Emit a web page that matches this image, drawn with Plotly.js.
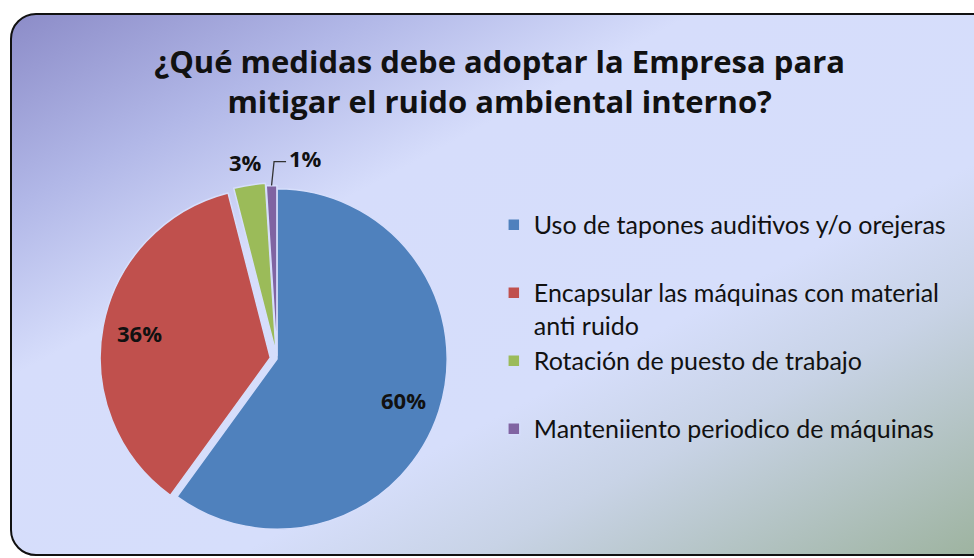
<!DOCTYPE html>
<html>
<head>
<meta charset="utf-8">
<script src="https://cdn.plot.ly/plotly-3.0.1.min.js"></script>
<style>
  html, body { margin: 0; padding: 0; background: #ffffff; width: 974px; height: 558px; overflow: hidden; }
  #bg {
    position: absolute; left: 10px; top: 13px; width: 990px; height: 543px;
    border: 2px solid #111; border-radius: 26px; box-sizing: border-box;
    background: linear-gradient(152deg, #8c8cc8 0%, #b1b7e7 18%, #d6ddfb 34%, #d6defb 62%, #c8d3e6 74%, #9cb29d 100%);
  }
  #chart { position: absolute; left: 0; top: 0; width: 974px; height: 558px; }
</style>
</head>
<body>
<div id="bg"></div>
<div id="chart"></div>
<script>
const titleText = "¿Qué medidas debe adoptar la Empresa para<br>mitigar el ruido ambiental interno?";
const categories = [
  "Uso de tapones auditivos y/o orejeras",
  "Encapsular las máquinas con material<br>anti ruido",
  "Rotación de puesto de trabajo",
  "Manteniiento periodico de máquinas"
];
const values = [60, 36, 3, 1];
const colors = ["#4f81bd", "#c0504d", "#9bbb59", "#8064a2"];
const pulls = [0, 0.04, 0.035, 0.02];
const outsideSlices = [false, false, true, true];

// legend labels: a blank line after single-line entries gives the wider row spacing
const legendLabels = categories.map((c, i) => (c.indexOf("<br>") < 0 && i < categories.length - 1) ? c + "<br> " : c);

const W = 974, H = 558;
const dom = { x: [0.1027, 0.4661], y: [0.0394, 0.6738] };
const total = values.reduce((a, b) => a + b, 0);
const maxPull = Math.max(...pulls);
const R = Math.min((dom.x[1] - dom.x[0]) * W, (dom.y[1] - dom.y[0]) * H) / 2 / (1 + maxPull);
const cxPx = (dom.x[0] + dom.x[1]) / 2 * W, cyPx = (1 - (dom.y[0] + dom.y[1]) / 2) * H;
const toPaperX = px => px / W, toPaperY = py => 1 - py / H;

const labelFont = { family: "Open Sans", size: 22, color: "#111111", weight: "bold" };

// percentage labels placed along each slice bisector (Excel-style)
const annotations = [];
const shapes = [];
let cum = 0;
values.forEach((v, i) => {
  const mid = (cum + v / 2) / total * 2 * Math.PI;
  cum += v;
  const txt = Math.round(v / total * 100) + "%";
  const sx = Math.sin(mid), sy = -Math.cos(mid);
  if (!outsideSlices[i]) {
    const rf = 0.78 + pulls[i];
    annotations.push({ xref: "paper", yref: "paper",
      x: toPaperX(cxPx + rf * R * sx), y: toPaperY(cyPx + rf * R * sy),
      text: txt, showarrow: false, font: labelFont, xanchor: "center", yanchor: "middle" });
  } else if (i === values.length - 2) {
    const rf = 1.17;
    annotations.push({ xref: "paper", yref: "paper",
      x: toPaperX(cxPx + rf * R * sx), y: toPaperY(cyPx + rf * R * sy),
      text: txt, showarrow: false, font: labelFont, xanchor: "center", yanchor: "middle" });
  } else {
    // leader line with an elbow, label to its right
    const r0 = (1 + pulls[i]) * R;
    const p0 = [cxPx + r0 * sx, cyPx + r0 * sy];
    const p1 = [p0[0] + 2.5, cyPx - 1.16 * R];
    const p2 = [p1[0] + 12, p1[1]];
    shapes.push({ type: "path", xref: "paper", yref: "paper",
      path: `M${toPaperX(p0[0])},${toPaperY(p0[1])} L${toPaperX(p1[0])},${toPaperY(p1[1])} L${toPaperX(p2[0])},${toPaperY(p2[1])}`,
      line: { color: "#333333", width: 1.3 } });
    annotations.push({ xref: "paper", yref: "paper",
      x: toPaperX(p2[0] + 1), y: toPaperY(p2[1] - 4),
      text: txt, showarrow: false, font: labelFont, xanchor: "left", yanchor: "middle" });
  }
});

const trace = {
  type: "pie",
  labels: legendLabels,
  values: values,
  sort: false,
  direction: "clockwise",
  rotation: 0,
  marker: { colors: colors, line: { color: "#d6defb", width: 1.5 } },
  pull: pulls,
  textinfo: "none",
  domain: dom,
  automargin: false,
  hoverinfo: "label+percent"
};

const layout = {
  width: W, height: H,
  margin: { l: 0, r: 0, t: 0, b: 0 },
  paper_bgcolor: "rgba(0,0,0,0)",
  plot_bgcolor: "rgba(0,0,0,0)",
  font: { family: "Open Sans", color: "#111111" },
  title: {
    text: titleText,
    font: { family: "Open Sans", size: 31, color: "#111111", weight: "bold" },
    x: 0.513, xanchor: "center",
    y: 0.87, yanchor: "top", yref: "container"
  },
  annotations: annotations,
  shapes: shapes,
  showlegend: true,
  legend: {
    x: 0.507, xanchor: "left",
    y: 0.638, yanchor: "top",
    valign: "top",
    bgcolor: "rgba(0,0,0,0)",
    font: { family: "Lato", size: 25, color: "#111111" },
    itemwidth: 30
  }
};

Plotly.newPlot("chart", [trace], layout, { displayModeBar: false, staticPlot: true });
</script>
</body>
</html>
